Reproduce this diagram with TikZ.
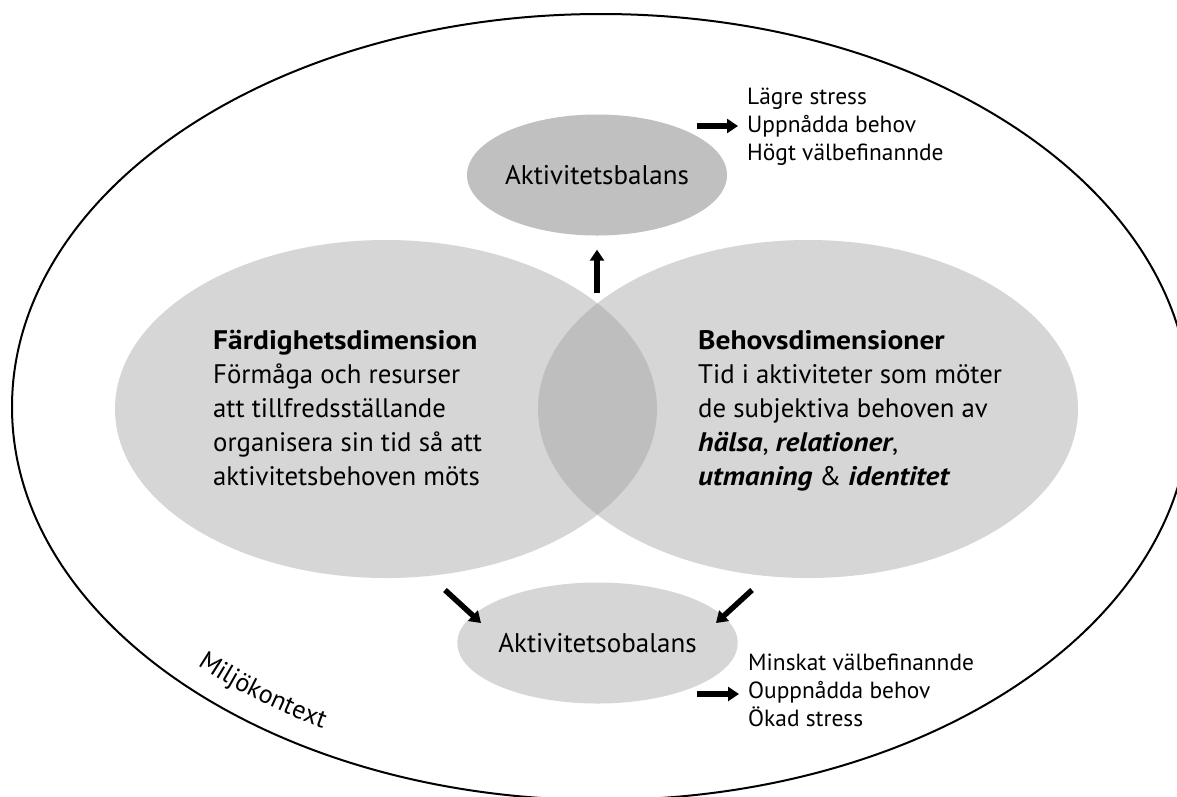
\documentclass[tikz,border=0pt]{standalone}
\usepackage{fontspec}
\setmainfont{PT Sans}
\usetikzlibrary{arrows.meta,shapes.geometric,decorations.text}
\definecolor{bigfill}{RGB}{214,214,214}
\definecolor{lensfill}{RGB}{190,190,190}
\definecolor{topfill}{RGB}{192,192,192}
\definecolor{botfill}{RGB}{214,214,214}
\newcommand\wbf[1]{{\bfseries\addfontfeatures{FakeStretch=1.10}#1}}
\newcommand\wbi[1]{{\bfseries\itshape\addfontfeatures{FakeStretch=1.09}#1}}
\begin{document}
\begin{tikzpicture}[x=1pt,y=-1pt,
  fatarrow/.style={line width=5.5pt,-{Triangle[length=11pt,width=14pt]}},
  bigtxt/.style={anchor=base west,inner sep=0pt,align=left,font=\fontsize{26.8}{34}\selectfont},
  listtxt/.style={anchor=base west,inner sep=0pt,align=left,font=\fontsize{23.4}{27.7}\selectfont},
  blob/.style={ellipse,inner sep=0pt,draw=none},
  smallblob/.style={blob,minimum width=218pt,minimum height=121pt,font=\fontsize{27}{30}\selectfont}]
\useasboundingbox (0,0) rectangle (1177,796);
\fill[white] (0,0) rectangle (1177,796);
% environment
\node[ellipse,draw,line width=2pt,minimum width=1178pt,minimum height=786pt] (env) at (601,407) {};
% the two dimensions
\node[blob,fill=bigfill,minimum width=542pt,minimum height=338pt] (L) at (386,409) {};
\node[blob,fill=bigfill,minimum width=540pt,minimum height=338pt] (R) at (808,409) {};
\begin{scope}
  \clip (386,409) ellipse [x radius=271, y radius=169];
  \fill[lensfill] (808,409) ellipse [x radius=270, y radius=169];
\end{scope}
% texts in the dimensions (anchored at the baseline of the last line)
\node[bigtxt] (Ltxt) at (213,485) {\wbf{Färdighetsdimension}\\Förmåga och resurser\\att tillfredsställande\\organisera sin tid så att\\aktivitetsbehoven möts};
\node[bigtxt] (Rtxt) at (698,485) {\wbf{Behovsdimensioner}\\Tid i aktiviteter som möter\\de subjektiva behoven av\\\wbi{hälsa}, \wbi{relationer},\\\wbi{utmaning} \& \wbi{identitet}};
% balance / imbalance
\node[smallblob,fill=topfill] (T) at (597,175) {Aktivitetsbalans};
\node[smallblob,fill=botfill] (B) at (597.5,643) {Aktivitetsobalans};
% outcomes
\node[listtxt] (Tout) at (747,160) {Lägre stress\\Uppnådda behov\\Högt välbefinannde};
\node[listtxt] (Bout) at (748,726) {Minskat välbefinannde\\Ouppnådda behov\\Ökad stress};
% arrows
\coordinate (lensTop) at (597,293);
\coordinate (tA) at (697,126);
\coordinate (bA) at (697,694);
\coordinate (lA) at (445,590);
\coordinate (lB) at (481,623);
\coordinate (rA) at (752,590);
\coordinate (rB) at (716,623);
\draw[fatarrow,shorten >=14pt] (lensTop) -- (T.south);
\draw[fatarrow,shorten >=9pt] (tA) -- (tA -| Tout.west);
\draw[fatarrow,shorten >=9pt] (bA) -- (bA -| Bout.west);
\draw[fatarrow] (lA) -- (lB);
\draw[fatarrow] (rA) -- (rB);
% environment label, set along the inside of the outer ellipse
\path[decorate,decoration={text along path,
      text={|\fontsize{26}{26}\selectfont|Miljökontext}}]
  plot[domain=0:1,samples=30,smooth,variable=\s]
  ({601+565*cos(135.6-30*\s)},{407+369*sin(135.6-30*\s)});
\end{tikzpicture}
\end{document}
